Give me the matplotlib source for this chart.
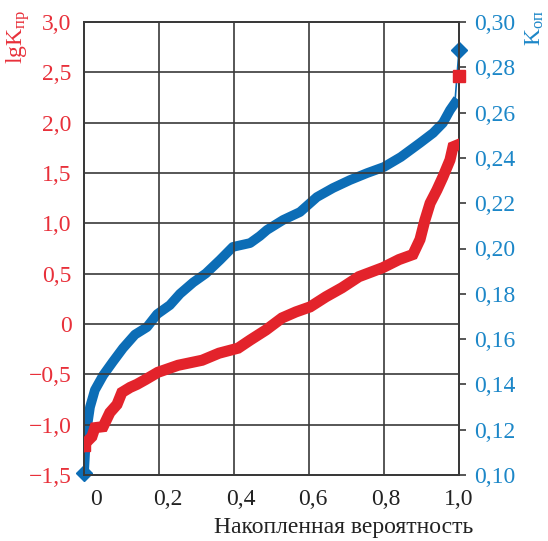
import numpy as np
import matplotlib.pyplot as plt

plt.rcParams['font.family'] = ['Liberation Serif', 'DejaVu Serif']
plt.rcParams['mathtext.fontset'] = 'custom'
plt.rcParams['mathtext.rm'] = 'Liberation Serif'
plt.rcParams['mathtext.it'] = 'Liberation Serif'

RED = '#E3232B'
BLUE = '#0C6DB6'
RED_TXT = '#E8303A'
BLUE_TXT = '#1C87C8'
GRID = '#3a3a3a'

# lg K_пр vs cumulative probability
p_red = [0.0, 0.005, 0.021, 0.029, 0.051, 0.069, 0.088, 0.101, 0.123, 0.141, 0.165,
         0.197, 0.251, 0.315, 0.360, 0.411, 0.443, 0.485, 0.528, 0.565, 0.603,
         0.645, 0.688, 0.733, 0.797, 0.840, 0.877, 0.896, 0.909, 0.923, 0.941,
         0.957, 0.976, 0.984, 0.997]
lg_red = [-1.20, -1.18, -1.12, -1.03, -1.02, -0.88, -0.80, -0.68, -0.63, -0.60, -0.55,
          -0.48, -0.41, -0.36, -0.29, -0.24, -0.16, -0.06, 0.06, 0.12, 0.17,
          0.27, 0.36, 0.47, 0.56, 0.64, 0.69, 0.84, 1.03, 1.20, 1.33,
          1.46, 1.63, 1.76, 1.78]
p_red_last = 1.0
lg_red_last = 2.46

# K_оп vs cumulative probability
p_blue = [0.0, 0.003, 0.008, 0.016, 0.029, 0.051, 0.077, 0.104, 0.136, 0.168, 0.195,
          0.229, 0.256, 0.291, 0.325, 0.363, 0.397, 0.443, 0.469, 0.488, 0.531, 0.576,
          0.621, 0.664, 0.709, 0.755, 0.800, 0.845, 0.896, 0.931, 0.957, 0.976, 0.989]
k_blue = [0.101, 0.110, 0.121, 0.130, 0.1375, 0.144, 0.150, 0.156, 0.162, 0.1653, 0.171,
          0.175, 0.180, 0.185, 0.189, 0.195, 0.2007, 0.2024, 0.2055, 0.2082, 0.2126, 0.2161,
          0.2227, 0.2267, 0.2302, 0.2333, 0.236, 0.2404, 0.2466, 0.251, 0.2554, 0.2611, 0.2642]
p_blue_last = 1.0
k_blue_last = 0.2876

xtick_labels = ['0', '0,2', '0,4', '0,6', '0,8', '1,0']
xtick_pos = [0.032, 0.224, 0.419, 0.611, 0.805, 1.0]
lg_ticks = np.arange(-1.5, 3.01, 0.5)
k_ticks = np.arange(0.10, 0.301, 0.02)


def lg_fmt(v):
    if abs(v) < 1e-9:
        return '0'
    return f'{v:.1f}'.replace('.', ',').replace('-', '\u2212')


fig = plt.figure(figsize=(5.48, 5.41), dpi=100)
ax = fig.add_axes([84 / 548, 1 - 475 / 541, 375 / 548, 453 / 541])
ax2 = ax.twinx()

ax.set_xlim(0, 1)
ax.set_ylim(-1.5, 3.0)
ax2.set_ylim(0.10, 0.30)

# grid: vertical lines at 0.2 steps, horizontal at left-axis ticks
for gx in [0.2, 0.4, 0.6, 0.8]:
    ax.axvline(gx, color=GRID, lw=1.2, zorder=1)
for gy in lg_ticks[1:-1]:
    ax.axhline(gy, color=GRID, lw=1.2, zorder=1)

ax.plot(p_red, lg_red, color=RED, lw=8, solid_joinstyle='miter', zorder=3)
ax.plot(p_red[:1], lg_red[:1], 's', color=RED, ms=9, zorder=3)
ax.plot([p_red_last], [lg_red_last], 's', color=RED, ms=8, zorder=3, clip_on=False)

ax2.plot(p_blue, k_blue, color=BLUE, lw=7, zorder=3)
ax2.plot([p_blue[-1], p_blue_last], [k_blue[-1], k_blue_last], color=BLUE, lw=1.2, zorder=3)
ax2.plot([p_blue[0], p_blue_last], [k_blue[0], k_blue_last], 'D', color=BLUE, ms=8,
         zorder=4, clip_on=False)

for a in (ax, ax2):
    for s in a.spines.values():
        s.set_color(GRID)
        s.set_linewidth(1.4)

ax.set_xticks(xtick_pos)
ax.set_xticklabels(xtick_labels)
ax.tick_params(axis='x', length=0, pad=10, labelsize=17, labelcolor='#222222')

ax.set_yticks(lg_ticks)
ax.set_yticklabels([lg_fmt(v) for v in lg_ticks])
ax.tick_params(axis='y', length=0, pad=9, labelsize=17, labelcolor=RED_TXT)

ax2.set_yticks(k_ticks)
ax2.set_yticklabels([f'{v:.2f}'.replace('.', ',') for v in k_ticks])
ax2.tick_params(axis='y', length=5, width=1.2, color=GRID, pad=6, labelsize=17,
                labelcolor=BLUE_TXT)

ax.set_zorder(ax2.get_zorder() + 1)
ax.patch.set_visible(False)

fig.text(18 / 548, 1 - 37 / 541, r'$\mathrm{lgK_{пр}}$', color=RED_TXT, fontsize=17,
         rotation=90, ha='center', va='center')
fig.text(535 / 548, 1 - 28 / 541, r'$\mathrm{K_{оп}}$', color=BLUE_TXT, fontsize=17,
         rotation=90, ha='center', va='center')
fig.text(344 / 548, 1 - 528 / 541, 'Накопленная вероятность', color='#222222',
         fontsize=17, ha='center', va='center')

fig.savefig('out.png', dpi=100)
